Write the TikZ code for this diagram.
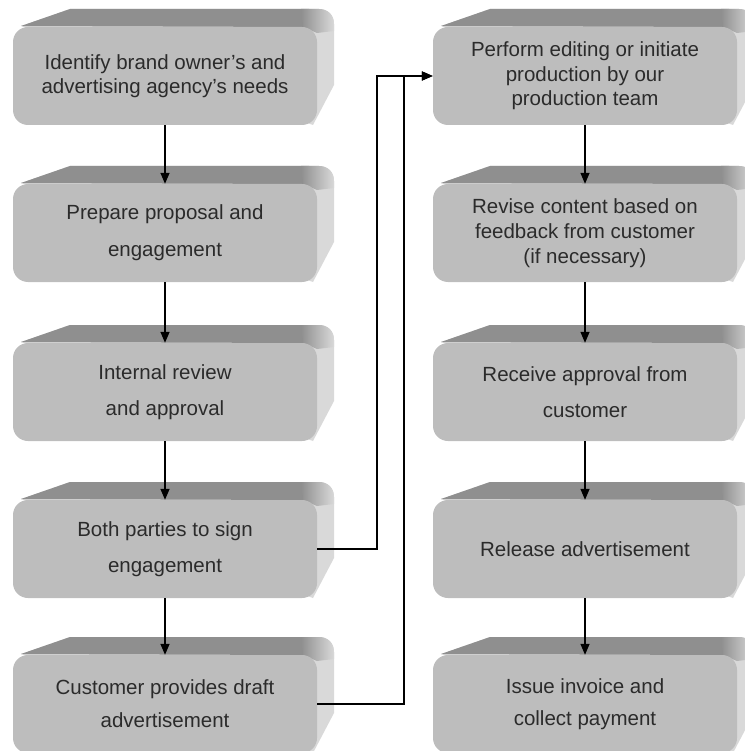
\documentclass[tikz,border=0pt]{standalone}
\usepackage{fontspec}
\setmainfont{Liberation Sans}
\usetikzlibrary{arrows.meta}

\definecolor{topgray}{HTML}{8F8F8F}
\definecolor{sidegray}{HTML}{D9D9D9}
\definecolor{facegray}{HTML}{BDBDBD}
\definecolor{inkgray}{HTML}{2B2B2B}

\tikzset{
  slabface/.style={rounded corners=15pt, fill=facegray, minimum width=304pt,
    minimum height=98pt, inner sep=0pt, align=center, text=inkgray},
  flow/.style={line width=1.4pt, black, -{Triangle[length=11pt,width=9pt]}},
}

% A raised slab: #1 name, #2 left edge of the front face, #3 top of the back face,
% #4 line spacing, #5 text
\newcommand\slab[5]{%
  \begin{scope}[shift={(#2,#3)}]
    % side face and overall back silhouette
    \fill[sidegray] (8,17) -- (57,0) -- (306,0) .. controls (315,0) and (321,6) .. (321,15)
      -- (321,76) -- (300,116) -- cycle;
    % top face
    \fill[topgray] (8,17) -- (57,0) -- (296,0) -- (290,18) -- cycle;
    % blend where the top turns into the side
    \shade[left color=topgray, right color=sidegray] (288,0) -- (306,0)
      .. controls (315,0) and (321,6) .. (321,15) -- (321,22) -- (304,24) -- (290,18) -- cycle;
  \end{scope}
  \node[slabface, font=\fontsize{20.5}{#4}\selectfont] (#1) at (#2+152,#3+67) {#5};
}

\begin{document}
\begin{tikzpicture}[x=1pt, y=-1pt]
  \useasboundingbox (0,0) rectangle (744,751);

  % left column
  \slab{L1}{13}{9}{23.5}{Identify brand owner’s and\\advertising agency’s needs}
  \slab{L2}{13}{166}{37}{Prepare proposal and\\engagement}
  \slab{L3}{13}{325}{36}{Internal review\\and approval}
  \slab{L4}{13}{482}{36}{Both parties to sign\\engagement}
  \slab{L5}{13}{637}{33}{Customer provides draft\\advertisement}

  % right column
  \slab{R1}{433}{9}{24.5}{Perform editing or initiate\\production by our\\production team}
  \slab{R2}{433}{166}{25}{Revise content based on\\feedback from customer\\(if necessary)}
  \slab{R3}{433}{325}{36}{Receive approval from\\customer}
  \slab{R4}{433}{482}{25}{Release advertisement}
  \slab{R5}{433}{637}{32}{Issue invoice and\\collect payment}

  % vertical flow within each column
  \draw[flow] (L1.south) -- (L2.north);
  \draw[flow] (L2.south) -- (L3.north);
  \draw[flow] (L3.south) -- (L4.north);
  \draw[flow] (L4.south) -- (L5.north);
  \draw[flow] (R1.south) -- (R2.north);
  \draw[flow] (R2.south) -- (R3.north);
  \draw[flow] (R3.south) -- (R4.north);
  \draw[flow] (R4.south) -- (R5.north);

  % crossing links into the production step
  \coordinate (j1) at (377,76);
  \coordinate (j2) at (404,76);
  \draw[flow] (L4.east) -- (L4.east -| j1) |- (R1.west);
  \draw[flow] (L5.east) -- (L5.east -| j2) |- (R1.west);
\end{tikzpicture}
\end{document}
